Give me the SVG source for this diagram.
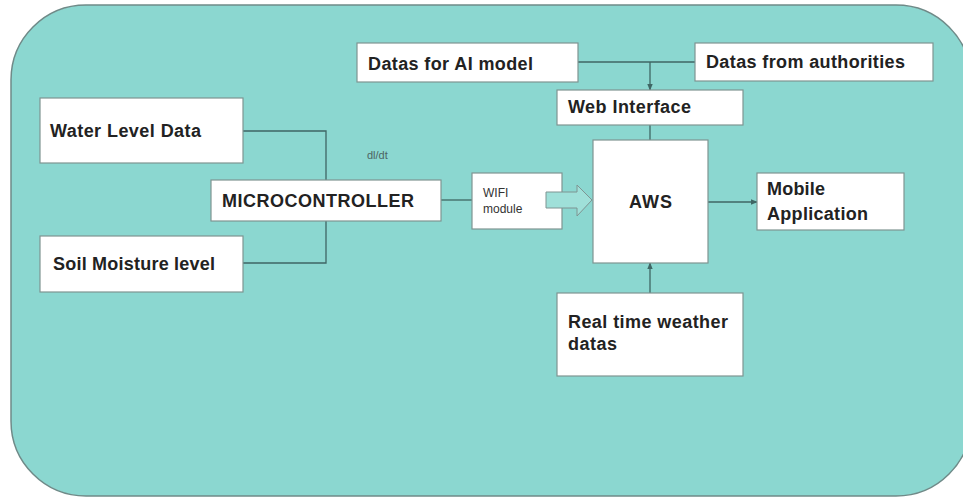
<svg xmlns="http://www.w3.org/2000/svg" width="963" height="498" viewBox="0 0 963 498">
<style>
.bg{fill:#8bd7d0;stroke:#6f8a88;stroke-width:1.5}
.box{fill:#ffffff;stroke:#7f9492;stroke-width:1.2}
.lbl{font-family:"Liberation Sans",Arial,sans-serif;font-weight:bold;font-size:18px;fill:#222}
.sm{font-family:"Liberation Sans",Arial,sans-serif;font-size:12px;fill:#333}
.con{fill:none;stroke:#3f6664;stroke-width:1.3}
</style>
<defs>
<marker id="ah" viewBox="0 0 10 10" refX="9" refY="5" markerWidth="7" markerHeight="7" orient="auto" markerUnits="userSpaceOnUse">
<path d="M0,1 L10,5 L0,9 z" fill="#3f6664"/>
</marker>
</defs>
<rect class="bg" x="11" y="5" width="960" height="491" rx="75" ry="75"/>
<g id="connectors">
<path class="con" d="M243,131 H326 V180"/>
<path class="con" d="M243,263 H326 V221"/>
<path class="con" d="M441,200 H472"/>
<path class="con" d="M578,62 H695"/>
<path class="con" d="M650,62 V90" marker-end="url(#ah)"/>
<path class="con" d="M650,125 V140"/>
<path class="con" d="M708,202 H757" marker-end="url(#ah)"/>
<path class="con" d="M650,293 V263" marker-end="url(#ah)"/>
</g>
<g id="water">
<rect class="box" x="40" y="98" width="203" height="65"/>
<text class="lbl" x="50" y="137" textLength="151">Water Level Data</text>
</g>
<g id="soil">
<rect class="box" x="40" y="236" width="203" height="56"/>
<text class="lbl" x="53" y="270" textLength="162">Soil Moisture level</text>
</g>
<g id="micro">
<rect class="box" x="211" y="180" width="230" height="41"/>
<text class="lbl" x="222" y="207" textLength="192">MICROCONTROLLER</text>
</g>
<text x="367" y="159" font-family="Liberation Sans, Arial, sans-serif" font-size="11" fill="#4d6563">dl/dt</text>
<g id="wifi">
<rect class="box" x="472" y="173" width="90" height="56"/>
<text class="sm" x="483" y="197">WIFI</text>
<text class="sm" x="483" y="213">module</text>
<path d="M546,192 H577 V185 L592,200 L577,216 V208 H546 z" fill="#9fe0d9" stroke="#7f9492" stroke-width="1"/>
</g>
<g id="ai">
<rect class="box" x="357" y="43" width="221" height="39"/>
<text class="lbl" x="368" y="70" textLength="165">Datas for AI model</text>
</g>
<g id="auth">
<rect class="box" x="695" y="43" width="238" height="38"/>
<text class="lbl" x="706" y="68" textLength="199">Datas from authorities</text>
</g>
<g id="web">
<rect class="box" x="557" y="90" width="186" height="35"/>
<text class="lbl" x="568" y="113" textLength="123">Web Interface</text>
</g>
<g id="aws">
<rect class="box" x="593" y="140" width="115" height="123"/>
<text class="lbl" x="629" y="208" textLength="43">AWS</text>
</g>
<g id="mobile">
<rect class="box" x="757" y="173" width="147" height="57"/>
<text class="lbl" x="767" y="195" textLength="58">Mobile</text>
<text class="lbl" x="767" y="220" textLength="101">Application</text>
</g>
<g id="weather">
<rect class="box" x="557" y="293" width="186" height="83"/>
<text class="lbl" x="568" y="328" textLength="160">Real time weather</text>
<text class="lbl" x="568" y="350" textLength="49">datas</text>
</g>
</svg>
